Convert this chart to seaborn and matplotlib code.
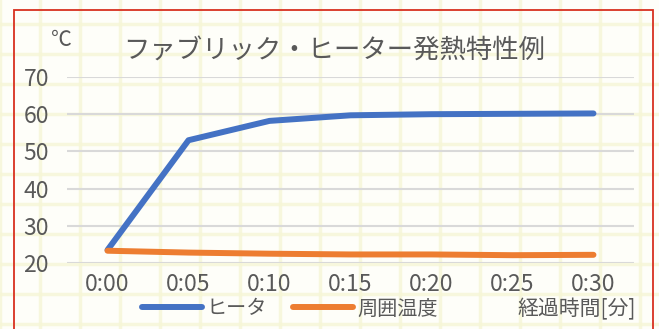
import matplotlib
matplotlib.use("Agg")
import matplotlib.pyplot as plt
import matplotlib.patches as patches
import seaborn as sns
import pandas as pd

# データ
times = ["0:00", "0:05", "0:10", "0:15", "0:20", "0:25", "0:30"]
heater = [23.5, 53.0, 58.2, 59.7, 60.0, 60.1, 60.2]
ambient = [23.3, 22.8, 22.5, 22.3, 22.3, 22.1, 22.2]
series_names = ["ヒータ", "周囲温度"]
yticks = [20, 30, 40, 50, 60, 70]

df = pd.DataFrame({
    "time": times * 2,
    "temp": heater + ambient,
    "series": [series_names[0]] * len(times) + [series_names[1]] * len(times),
})

sns.set_style("white")
plt.rcParams["font.family"] = ["Noto Sans CJK JP", "DejaVu Sans"]
text_col = "#595959"

fig = plt.figure(figsize=(6.59, 3.29), dpi=100)
fig.patch.set_facecolor("#fefef9")

# 背景の薄い格子模様
bg = fig.add_axes([0, 0, 1, 1], zorder=0)
bg.set_xlim(0, 659)
bg.set_ylim(0, 329)
bg.set_xticks(range(0, 660, 40))
bg.set_yticks(range(5, 330, 30))
bg.grid(True, color="#f6f6d6", linewidth=2.5, alpha=0.8)
bg.tick_params(length=0, labelbottom=False, labelleft=False)
bg.set_facecolor("#fefef9")
for s in bg.spines.values():
    s.set_visible(False)

# 赤い枠
fig.patches.append(patches.Rectangle((14 / 659, -0.05), (653 - 14) / 659, 1.05 - 10 / 329,
                                     transform=fig.transFigure, fill=False,
                                     edgecolor="#d8301f", linewidth=1.3, zorder=1))

ax = fig.add_axes([0.1017, 0.2006, 0.8603, 0.5654], zorder=2)
ax.patch.set_alpha(0)
sns.lineplot(data=df, x="time", y="temp", hue="series",
             palette=["#4472c4", "#ed7d31"], linewidth=4.3, ax=ax, legend=False)
for ln in ax.lines:
    ln.set_solid_capstyle("round")
    ln.set_solid_joinstyle("round")

ax.set_xlim(-0.5, len(times) - 0.5)
ax.set_ylim(20, 70)
ax.set_yticks(yticks)
ax.grid(axis="y", color="#d9d9d9", linewidth=1.5)
ax.set_axisbelow(True)
ax.tick_params(length=0, labelsize=16.5, colors=text_col, pad=7)
ax.tick_params(axis="y", pad=13)
ax.set_xlabel("")
ax.set_ylabel("")
for s in ax.spines.values():
    s.set_visible(False)

fig.text(334 / 659, 1 - 50 / 329, "ファブリック・ヒーター発熱特性例", ha="center", va="center",
         fontsize=19, color=text_col)
fig.text(61 / 659, 1 - 40 / 329, "℃", ha="center", va="center", fontsize=15, color=text_col)
fig.text(636 / 659, 1 - 309 / 329, "経過時間[分]", ha="right", va="center", fontsize=15, color=text_col)

handles = [plt.Line2D([], [], color=c, linewidth=4.3, solid_capstyle="round")
           for c in ["#4472c4", "#ed7d31"]]
fig.legend(handles, series_names, loc="center", bbox_to_anchor=(290 / 659, 1 - 309 / 329),
           ncol=2, frameon=False, fontsize=14.5, handlelength=3.0, handletextpad=0.2,
           columnspacing=1.3, labelcolor=text_col, borderpad=0)

fig.savefig("out.png", dpi=100)
